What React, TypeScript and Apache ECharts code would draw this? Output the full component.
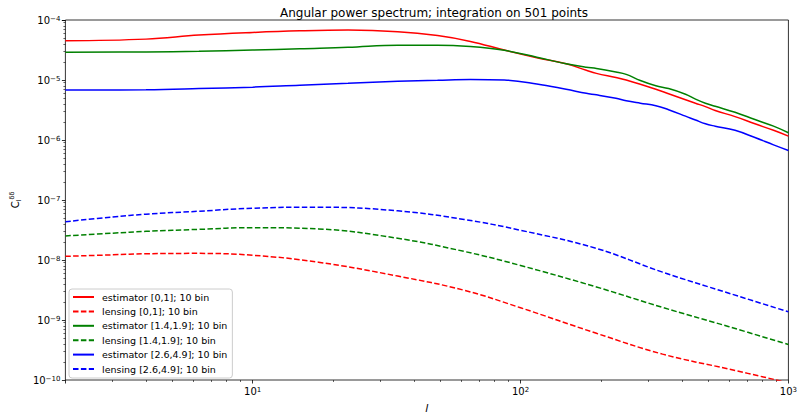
import React, { useEffect, useRef } from "react";
import * as echarts from "echarts";

// Multipole samples for the estimator curves
const ellEstimator = [2, 4, 6.3, 10, 15, 22.7, 34.8, 49, 65, 87, 115, 148, 176, 192, 227, 248, 280, 320, 357, 413, 450, 490, 533, 632, 750, 880, 1000];

const estimator01 = [4.5e-5, 4.8e-5, 5.6e-5, 6.2e-5, 6.6e-5, 6.8e-5, 6.4e-5, 5.5e-5, 4.4e-5, 3.15e-5, 2.35e-5, 1.86e-5, 1.45e-5, 1.29e-5, 1.1e-5, 1.0e-5, 8.5e-6, 7.0e-6, 5.9e-6, 4.7e-6, 4.1e-6, 3.6e-6, 3.1e-6, 2.45e-6, 1.86e-6, 1.45e-6, 1.16e-6];
const estimator1419 = [2.9e-5, 2.93e-5, 3.0e-5, 3.15e-5, 3.33e-5, 3.5e-5, 3.8e-5, 3.8e-5, 3.6e-5, 3.12e-5, 2.4e-5, 1.86e-5, 1.63e-5, 1.56e-5, 1.36e-5, 1.24e-5, 9.8e-6, 8.0e-6, 7.2e-6, 5.8e-6, 4.8e-6, 4.1e-6, 3.64e-6, 2.9e-6, 2.19e-6, 1.7e-6, 1.32e-6];
const estimator2649 = [6.8e-6, 6.9e-6, 7.2e-6, 7.6e-6, 8.2e-6, 8.8e-6, 9.5e-6, 9.9e-6, 1.02e-5, 1.0e-5, 8.6e-6, 7.0e-6, 6.0e-6, 5.66e-6, 4.95e-6, 4.5e-6, 4.1e-6, 3.73e-6, 3.2e-6, 2.5e-6, 2.15e-6, 1.86e-6, 1.7e-6, 1.45e-6, 1.1e-6, 8.3e-7, 6.7e-7];

// Multipole samples for the lensing curves
const ellLensing = [2, 3, 4, 6.3, 10, 17.6, 34.8, 61.6, 100, 192, 339, 596, 1000];

const lensing01 = [1.15e-8, 1.22e-8, 1.27e-8, 1.29e-8, 1.2e-8, 9.2e-9, 5.4e-9, 3.13e-9, 1.6e-9, 6.0e-10, 2.7e-10, 1.53e-10, 9.0e-11];
const lensing1419 = [2.52e-8, 2.8e-8, 3.0e-8, 3.24e-8, 3.46e-8, 3.3e-8, 2.3e-8, 1.39e-8, 8.1e-9, 3.55e-9, 1.62e-9, 7.8e-10, 3.9e-10];
const lensing2649 = [4.35e-8, 5.2e-8, 5.8e-8, 6.5e-8, 7.3e-8, 7.6e-8, 6.6e-8, 4.74e-8, 3.13e-8, 1.56e-8, 6.27e-9, 2.82e-9, 1.37e-9];

const seriesNames = [
  "estimator [0,1]; 10 bin",
  "lensing [0,1]; 10 bin",
  "estimator [1.4,1.9]; 10 bin",
  "lensing [1.4,1.9]; 10 bin",
  "estimator [2.6,4.9]; 10 bin",
  "lensing [2.6,4.9]; 10 bin",
];

const FONT = "DejaVu Sans";

function pairs(xs: number[], ys: number[]) {
  return xs.map((x, i) => [x, ys[i]]);
}

function powerLabel(value: number) {
  const e = Math.log10(value);
  const r = Math.round(e);
  if (Math.abs(e - r) > 1e-6) return "";
  const s = r < 0 ? "\u2212" + Math.abs(r) : String(r);
  return "10{sup|" + s + "}";
}

const labelRich = {
  sup: { fontSize: 7, lineHeight: 7, verticalAlign: "top" as const, fontFamily: FONT, color: "#000" },
};

export default function App() {
  const ref = useRef<HTMLDivElement>(null);

  useEffect(() => {
    if (!ref.current) return;
    const chart = echarts.init(ref.current, null, { renderer: "svg" });

    const dash = [5.5, 2.4];
    const mk = (name: string, data: number[][], color: string, dashed: boolean) => ({
      type: "line",
      name,
      data,
      smooth: 0.4,
      showSymbol: false,
      symbol: "none",
      color,
      lineStyle: { color, width: 1.5, type: dashed ? dash : "solid" },
      z: 3,
    });

    chart.setOption({
      animation: false,
      backgroundColor: "#ffffff",
      title: {
        text: "Angular power spectrum; integration on 501 points",
        left: 429,
        top: 2,
        textAlign: "center",
        textStyle: { fontFamily: FONT, fontSize: 12, fontWeight: "normal", color: "#000" },
      },
      grid: {
        left: 65,
        right: 7,
        top: 20,
        bottom: 35,
        show: true,
        borderColor: "#000",
        borderWidth: 0.8,
        backgroundColor: "transparent",
      },
      legend: {
        orient: "vertical",
        left: 69,
        top: 289,
        itemWidth: 21,
        itemHeight: 10,
        itemGap: 4.4,
        padding: [3, 5, 4, 3],
        backgroundColor: "rgba(255,255,255,0.8)",
        borderColor: "#cccccc",
        borderWidth: 1,
        borderRadius: 3,
        itemStyle: { opacity: 0, borderWidth: 0 },
        textStyle: { fontFamily: FONT, fontSize: 9.5, color: "#000", padding: [0, 0, 0, 3] },
        data: seriesNames,
      },
      xAxis: {
        type: "log",
        logBase: 10,
        min: 2,
        max: 1000,
        name: "l",
        nameLocation: "middle",
        nameGap: 23,
        nameTextStyle: { fontFamily: FONT, fontSize: 11, fontStyle: "italic", color: "#000" },
        axisLine: { show: false },
        axisTick: { show: true, inside: false, length: 3.5, lineStyle: { color: "#000", width: 0.8 } },
        minorTick: { show: true, splitNumber: 9, length: 2, lineStyle: { color: "#000", width: 0.6 } },
        splitLine: { show: false },
        minorSplitLine: { show: false },
        axisLabel: {
          formatter: (v: number) => powerLabel(v),
          fontFamily: FONT,
          fontSize: 10,
          color: "#000",
          margin: 6,
          rich: labelRich,
        },
      },
      yAxis: {
        type: "log",
        logBase: 10,
        min: 1e-10,
        max: 1e-4,
        name: "{c|C}{sub|l}{sup|δδ}",
        nameLocation: "middle",
        nameRotate: 90,
        nameGap: 40,
        nameTextStyle: {
          fontFamily: FONT,
          color: "#000",
          rich: {
            c: { fontSize: 10, lineHeight: 14, fontFamily: FONT, color: "#000" },
            sub: { fontSize: 6.5, lineHeight: 7, verticalAlign: "bottom", fontFamily: FONT, color: "#000" },
            sup: { fontSize: 6.5, lineHeight: 7, verticalAlign: "top", fontFamily: FONT, color: "#000" },
          },
        },
        axisLine: { show: false },
        axisTick: { show: true, inside: false, length: 3.5, lineStyle: { color: "#000", width: 0.8 } },
        minorTick: { show: true, splitNumber: 9, length: 2, lineStyle: { color: "#000", width: 0.6 } },
        splitLine: { show: false },
        minorSplitLine: { show: false },
        axisLabel: {
          formatter: (v: number) => powerLabel(v),
          fontFamily: FONT,
          fontSize: 10,
          color: "#000",
          margin: 5,
          rich: labelRich,
        },
      },
      series: [
        mk(seriesNames[0], pairs(ellEstimator, estimator01), "#ff0000", false),
        mk(seriesNames[1], pairs(ellLensing, lensing01), "#ff0000", true),
        mk(seriesNames[2], pairs(ellEstimator, estimator1419), "#008000", false),
        mk(seriesNames[3], pairs(ellLensing, lensing1419), "#008000", true),
        mk(seriesNames[4], pairs(ellEstimator, estimator2649), "#0000ff", false),
        mk(seriesNames[5], pairs(ellLensing, lensing2649), "#0000ff", true),
      ],
    });

    return () => chart.dispose();
  }, []);

  return (
    <div
      ref={ref}
      style={{ position: "fixed", left: 0, top: 0, width: 800, height: 419 }}
    />
  );
}
